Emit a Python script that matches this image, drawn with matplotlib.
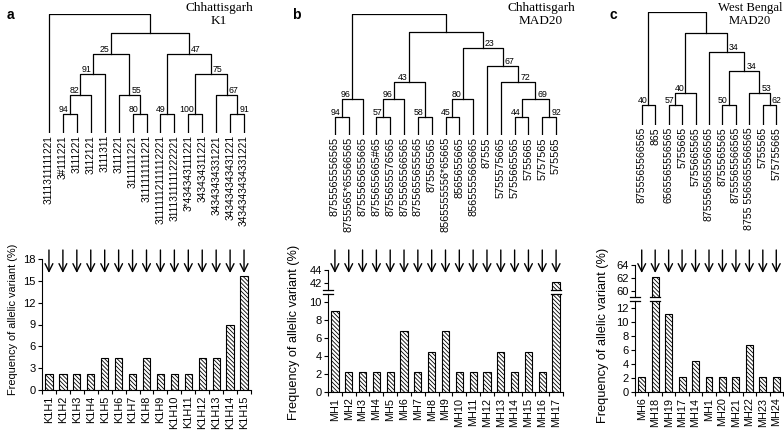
import numpy as np
import matplotlib.pyplot as plt
from matplotlib import transforms

W, H = 784, 433

# ---------------- panel a : Chhattisgarh K1 ----------------
a_leaves = ['3111311111221', '3#111221', '3111221', '3112121', '3111311',
            '3111221', '3111111221', '3111111111221', '31111112111112221',
            '3111311111222221', '3*434343111221', '343434311221',
            '34343434331221', '343434343431221', '3434343434331221']
# merges: (left node, right node, height, bootstrap support)
a_merges = [(1, 2, 19, 94), (15, 3, 38, 82), (16, 4, 59, 91), (6, 7, 19, 80),
            (5, 18, 38, 55), (17, 19, 79, 25), (8, 9, 19, 49), (10, 11, 19, 100),
            (13, 14, 19, 91), (12, 23, 38, 67), (22, 24, 59, 75), (21, 25, 79, 47),
            (20, 26, 100, None), (0, 27, 119, None)]
a_side = ['L', 'L', 'L', 'L', 'R', 'L', 'L', 'L', 'R', 'R', 'R', 'R', None, None]
a_haplo = ['K1H1', 'K1H2', 'K1H3', 'K1H4', 'K1H5', 'K1H6', 'K1H7', 'K1H8',
           'K1H9', 'K1H10', 'K1H11', 'K1H12', 'K1H13', 'K1H14', 'K1H15']
a_freq = [2.2, 2.2, 2.2, 2.2, 4.4, 4.4, 2.2, 4.4, 2.2, 2.2, 2.2, 4.4, 4.4, 8.9, 15.6]

# ---------------- panel b : Chhattisgarh MAD20 ----------------
b_leaves = ['8755565556565', '8755565*65566565', '8755565655665', '8755655665#65',
            '8755655576565', '8755565566565', '8755655655565', '875565565',
            '8565555556*65665', '8565655665', '8565555665665', '87555',
            '5755575665', '5755665565', '5755665', '5757565', '575565']
b_merges = [(0, 1, 18, 94), (17, 2, 36, 96), (3, 4, 18, 57), (19, 5, 36, 96),
            (6, 7, 18, 58), (20, 21, 53, 43), (8, 9, 18, 45), (23, 10, 36, 80),
            (13, 14, 18, 44), (15, 16, 18, 92), (25, 26, 36, 69), (12, 27, 53, 72),
            (11, 28, 69, 67), (24, 29, 87, 23), (22, 30, 103, None),
            (18, 31, 121, None)]
b_side = ['L', 'L', 'L', 'L', 'L', 'L', 'L', 'L', 'L', 'R', 'R', 'R', 'R', 'R',
          None, None]
b_haplo = ['MH1', 'MH2', 'MH3', 'MH4', 'MH5', 'MH6', 'MH7', 'MH8', 'MH9', 'MH10',
           'MH11', 'MH12', 'MH13', 'MH14', 'MH15', 'MH16', 'MH17']
b_freq = [8.9, 2.2, 2.2, 2.2, 2.2, 6.7, 2.2, 4.4, 6.7, 2.2, 2.2, 2.2, 4.4, 2.2,
          4.4, 2.2, 42.2]

# ---------------- panel c : West Bengal MAD20 ----------------
c_leaves = ['8755565566565', '865', '6565565556565', '5755665', '5755665565',
            '8755565655566565', '8755565565', '8755565566565',
            '8755 5565655566565', '5755565', '575755665']
c_merges = [(0, 1, 20, 40), (2, 3, 20, 57), (12, 4, 32, 40), (6, 7, 20, 50),
            (9, 10, 20, 62), (8, 15, 32, 53), (14, 16, 54, 34), (5, 17, 73, 34),
            (13, 18, 92, None), (11, 19, 113, None)]
c_side = ['L', 'L', 'L', 'L', 'R', 'R', 'R', 'R', None, None]
c_haplo = ['MH6', 'MH18', 'MH19', 'MH17', 'MH14', 'MH1', 'MH20', 'MH21', 'MH22',
           'MH23', 'MH24']
c_freq = [2.2, 62.2, 11.1, 2.2, 4.4, 2.2, 2.2, 2.2, 6.7, 2.2, 2.2]

plt.rcParams['font.family'] = ['Liberation Sans', 'DejaVu Sans']
plt.rcParams['hatch.linewidth'] = 0.6

fig = plt.figure(figsize=(W / 100, H / 100), dpi=100)


def rect(left, top, right, bottom):
    return [left / W, 1 - bottom / H, (right - left) / W, (bottom - top) / H]


def new_ax(*box):
    ax = fig.add_axes(rect(*box))
    ax.patch.set_visible(False)
    return ax


def draw_tree(ax, leaves, merges, sides, leaf_fs):
    n = len(leaves)
    xs = list(range(n))
    ys = [0] * n
    for (l, r, h, sup), side in zip(merges, sides):
        xl, xr = xs[l], xs[r]
        ax.plot([xl, xl, xr, xr], [ys[l], h, h, ys[r]], color='black', lw=0.9)
        xm = (xl + xr) / 2
        xs.append(xm)
        ys.append(h)
        if sup is not None:
            dx = -1 if side == 'L' else 1.5
            ax.annotate(str(sup), (xm, h), xytext=(dx, 0.3), textcoords='offset points',
                        ha='right' if side == 'L' else 'left', va='bottom', fontsize=6.3)
    for i, lab in enumerate(leaves):
        ax.annotate(lab, (i, 0), xytext=(0, -1.5), textcoords='offset points',
                    rotation=90, ha='center', va='top', fontsize=leaf_fs)
    ax.set_xlim(-0.5, n - 0.5)
    ax.set_ylim(0, merges[-1][2])
    ax.axis('off')


def style_bars(ax, labels, ylim, yticks):
    n = len(labels)
    ax.set_xlim(-0.5, n - 0.5)
    ax.set_ylim(*ylim)
    ax.set_yticks(yticks)
    ax.spines[['top', 'right']].set_visible(False)
    ax.set_xticks(np.arange(n))
    ax.set_xticklabels(labels, rotation=90, fontsize=7.8)
    ax.set_xticks(np.arange(-0.5, n, 1), minor=True)
    ax.tick_params(axis='x', which='major', length=0, pad=4)
    ax.tick_params(axis='x', which='minor', length=3, direction='out', width=0.8)
    ax.tick_params(axis='y', length=3, width=0.8, labelsize=8, pad=1.5)
    for s in ax.spines.values():
        s.set_linewidth(0.8)


def style_upper(ax, n, ylim, yticks):
    ax.set_xlim(-0.5, n - 0.5)
    ax.set_ylim(*ylim)
    ax.set_yticks(yticks)
    ax.spines[['top', 'right', 'bottom']].set_visible(False)
    ax.spines['left'].set_linewidth(0.8)
    ax.set_xticks([])
    ax.tick_params(axis='y', length=3, width=0.8, labelsize=8, pad=1.5)


def bars(ax, freq):
    ax.bar(np.arange(len(freq)), freq, width=0.52, color='white', edgecolor='black',
           hatch='\\' * 8, lw=0.8)


def arrows(ax, n):
    tr = transforms.blended_transform_factory(ax.transData, fig.transFigure)
    for i in range(n):
        ax.annotate('', xy=(i, 1 - 273 / H), xytext=(i, 1 - 250 / H), xycoords=tr,
                    textcoords=tr, annotation_clip=False, zorder=5,
                    arrowprops=dict(arrowstyle='->,head_length=0.7,head_width=0.35',
                                    color='black', lw=1.0, shrinkA=0, shrinkB=0,
                                    mutation_scale=8))


def break_marks(ax_up, ax_lo, tall):
    for ax, yy in ((ax_up, 0), (ax_lo, 1)):
        tr = transforms.blended_transform_factory(ax.transData, ax.transAxes)
        for x0 in (-0.5, tall):
            ax.plot([x0 - 0.38, x0 + 0.38], [yy, yy], color='black', lw=0.9,
                    transform=tr, clip_on=False)


# ---- panel a ----
ax = new_ax(42, 14, 251, 133)
draw_tree(ax, a_leaves, a_merges, a_side, 7.3)
ax = new_ax(42, 259, 251, 390)
bars(ax, a_freq)
style_bars(ax, a_haplo, (0, 18), range(0, 19, 3))
arrows(ax, len(a_freq))
fig.text(13 / W, 1 - 319 / H, 'Frequency of allelic variant (%)', rotation=90,
         ha='center', va='center', fontsize=7.9)

# ---- panel b ----
ax = new_ax(328, 14, 563, 135)
draw_tree(ax, b_leaves, b_merges, b_side, 7.8)
ax_lo = new_ax(328, 294, 563, 392)
bars(ax_lo, b_freq)
style_bars(ax_lo, b_haplo, (0, 10.83), range(0, 11, 2))
ax_up = new_ax(328, 270, 563, 290)
bars(ax_up, b_freq)
style_upper(ax_up, len(b_freq), (40.92, 44), [42, 44])
break_marks(ax_up, ax_lo, len(b_freq) - 1)
arrows(ax_up, len(b_freq))
fig.text(294 / W, 1 - 332 / H, 'Frequency of allelic variant (%)', rotation=90,
         ha='center', va='center', fontsize=9.2)

# ---- panel c ----
ax = new_ax(635, 12, 783, 125)
draw_tree(ax, c_leaves, c_merges, c_side, 7.6)
ax_lo = new_ax(635, 301, 783, 392)
bars(ax_lo, c_freq)
style_bars(ax_lo, c_haplo, (0, 13.0), range(0, 13, 2))
ax_up = new_ax(635, 265, 783, 297)
bars(ax_up, c_freq)
style_upper(ax_up, len(c_freq), (59.08, 64), [60, 62, 64])
break_marks(ax_up, ax_lo, 1)
arrows(ax_up, len(c_freq))
fig.text(603 / W, 1 - 335 / H, 'Frequency of allelic variant (%)', rotation=90,
         ha='center', va='center', fontsize=9.2)

# panel letters and titles
for x, y, s in ((7, 19, 'a'), (292, 19, 'b'), (609, 19, 'c')):
    fig.text(x / W, 1 - y / H, s, fontsize=10, fontweight='bold', va='baseline')
for x, s, fs in ((219, 'Chhattisgarh\nK1', 9.5), (541, 'Chhattisgarh\nMAD20', 9.5),
                 (750, 'West Bengal\nMAD20', 9.2)):
    fig.text(x / W, 1 - 2 / H, s, ha='center', va='top', fontsize=fs,
             family='Liberation Serif', linespacing=1.15)

fig.savefig('out.png', dpi=100)
